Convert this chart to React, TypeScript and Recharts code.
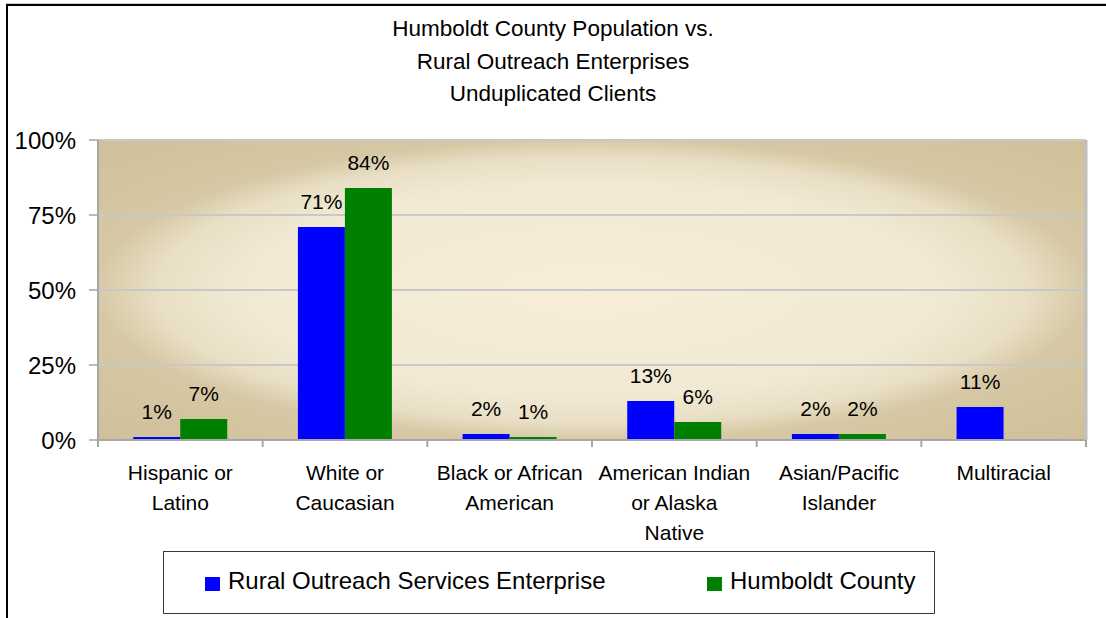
import React from "react";
import {
  Bar,
  BarChart,
  CartesianGrid,
  LabelList,
  Legend,
  XAxis,
  YAxis,
} from "recharts";

// categories, "\n" marks where the axis label wraps
const categories = [
  "Hispanic or\nLatino",
  "White or\nCaucasian",
  "Black or African\nAmerican",
  "American Indian\nor Alaska\nNative",
  "Asian/Pacific\nIslander",
  "Multiracial",
];
const roseValues = [1, 71, 2, 13, 2, 11];
const humboldtValues: (number | null)[] = [7, 84, 1, 6, 2, null];
const yTicks = [0, 25, 50, 75, 100];
const seriesOrder = ["rose", "humboldt"];

const titleLines = [
  "Humboldt County Population vs.",
  "Rural Outreach Enterprises",
  "Unduplicated Clients",
];

const FONT = '"Liberation Sans", Arial, sans-serif';

const data = categories.map((name, i) => ({
  name,
  rose: roseValues[i],
  humboldt: humboldtValues[i],
}));

const renderBarLabel = (props: any) => {
  const { x, y, width, value } = props;
  if (value == null) return null;
  return (
    <text
      x={Number(x) + Number(width) / 2}
      y={Number(y) - 18}
      textAnchor="middle"
      fontSize={21}
      fontFamily={FONT}
      fill="#000"
    >
      {value}%
    </text>
  );
};

const CategoryTick = (props: any) => {
  const { x, y, payload, index } = props;
  const half = payload?.offset ?? 82.33;
  const lines = String(payload.value).split("\n");
  return (
    <g>
      <line x1={x - half} x2={x - half} y1={y} y2={y + 7} stroke="#a6a6a6" strokeWidth={2} />
      {index === categories.length - 1 && (
        <line x1={x + half} x2={x + half} y1={y} y2={y + 7} stroke="#a6a6a6" strokeWidth={2} />
      )}
      <text textAnchor="middle" fontSize={21} fontFamily={FONT} fill="#000">
        {lines.map((l, i) => (
          <tspan key={i} x={x} y={y + 40 + i * 30}>
            {l}
          </tspan>
        ))}
      </text>
    </g>
  );
};

const LegendBox = (props: any) => {
  const items = [...(props.payload || [])].sort(
    (a: any, b: any) => seriesOrder.indexOf(a.dataKey) - seriesOrder.indexOf(b.dataKey)
  );
  const lefts = [41, 543];
  return (
    <div
      style={{
        position: "relative",
        width: 772,
        height: 63,
        boxSizing: "border-box",
        border: "1.5px solid #3a3a3a",
        background: "#fff",
        fontFamily: FONT,
      }}
    >
      {items.map((it: any, i: number) => (
        <div
          key={i}
          style={{
            position: "absolute",
            left: lefts[i],
            top: 14,
            display: "flex",
            alignItems: "center",
            whiteSpace: "nowrap",
          }}
        >
          <span
            style={{
              display: "inline-block",
              width: 15,
              height: 14,
              background: it.color,
              marginRight: 8,
              marginTop: 5,
            }}
          />
          <span style={{ fontSize: 24, color: "#000", lineHeight: "30px" }}>{it.value}</span>
        </div>
      ))}
    </div>
  );
};

export default function App() {
  return (
    <div
      style={{
        position: "absolute",
        left: 0,
        top: 0,
        width: 1106,
        height: 618,
        overflow: "hidden",
        background: "#fff",
        fontFamily: FONT,
      }}
    >
      <div
        style={{
          position: "absolute",
          left: 6,
          top: 4,
          width: 1200,
          height: 700,
          borderLeft: "2px solid #000",
          borderTop: "2px solid #000",
          boxShadow: "0 -1px 0 #c8c8c8",
        }}
      />
      <div
        style={{
          position: "absolute",
          left: 0,
          top: 13,
          width: 1106,
          textAlign: "center",
          fontSize: 22.5,
          lineHeight: "32.5px",
          color: "#000",
        }}
      >
        {titleLines.map((t) => (
          <div key={t}>{t}</div>
        ))}
      </div>
      <div style={{ position: "absolute", left: 0, top: 0 }}>
        <BarChart
          width={1106}
          height={618}
          data={data}
          margin={{ top: 140, right: 19, left: 18, bottom: 88 }}
          barCategoryGap="21.4%"
          barGap={0}
        >
          <defs>
            <radialGradient id="plotBg" cx="50%" cy="50%" r="71%">
              <stop offset="0%" stopColor="#f8eed8" />
              <stop offset="50%" stopColor="#f1e9d4" />
              <stop offset="62%" stopColor="#e9dfc5" />
              <stop offset="71%" stopColor="#d6c8a4" />
              <stop offset="100%" stopColor="#cfc09a" />
            </radialGradient>
          </defs>
          <CartesianGrid
            vertical={false}
            stroke="#c8c8c8"
            strokeWidth={2}
            fill="url(#plotBg)"
            fillOpacity={1}
          />
          <XAxis
            dataKey="name"
            interval={0}
            height={90}
            tickLine={false}
            tickSize={0}
            tickMargin={0}
            axisLine={{ stroke: "#a6a6a6", strokeWidth: 2 }}
            tick={<CategoryTick />}
          />
          <YAxis
            width={80}
            domain={[0, 100]}
            ticks={yTicks}
            interval={0}
            tickFormatter={(v: number) => `${v}%`}
            tickSize={9}
            tickMargin={13}
            axisLine={{ stroke: "#a6a6a6", strokeWidth: 2 }}
            tickLine={{ stroke: "#a6a6a6", strokeWidth: 1.5 }}
            tick={{ fill: "#000", fontSize: 24, fontFamily: FONT }}
          />
          <YAxis
            yAxisId="right"
            orientation="right"
            width={1}
            domain={[0, 100]}
            tick={false}
            tickLine={false}
            axisLine={{ stroke: "#c0c0c0", strokeWidth: 3 }}
          />
          <Legend
            layout="horizontal"
            verticalAlign="middle"
            align="center"
            wrapperStyle={{ left: 163, top: 551, width: 772, height: 63 }}
            content={<LegendBox />}
          />
          <Bar
            dataKey="rose"
            name="Rural Outreach Services Enterprise"
            fill="#0000ff"
            isAnimationActive={false}
          >
            <LabelList dataKey="rose" content={renderBarLabel} />
          </Bar>
          <Bar
            dataKey="humboldt"
            name="Humboldt County"
            fill="#008000"
            isAnimationActive={false}
          >
            <LabelList dataKey="humboldt" content={renderBarLabel} />
          </Bar>
        </BarChart>
      </div>
    </div>
  );
}
